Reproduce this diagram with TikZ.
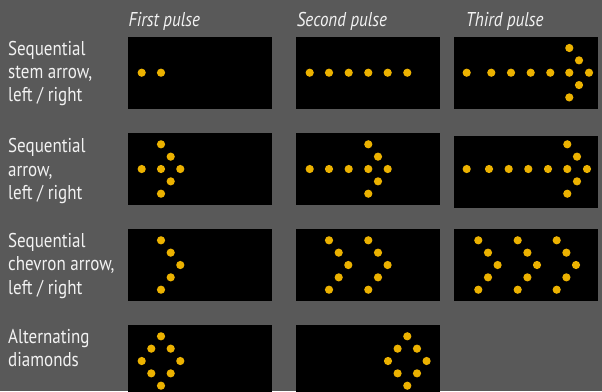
\documentclass[tikz,border=0pt]{standalone}
\usepackage{fontspec}
\setmainfont{PT Sans}[FakeStretch=0.85]
\usepackage{xcolor}
\usepackage{tikz}
\usetikzlibrary{positioning}
\definecolor{bggray}{RGB}{89,89,89}
\definecolor{ledamber}{RGB}{236,178,0}
\definecolor{labelgray}{RGB}{242,242,242}
% one LED, and the groups of LEDs that repeat
\newcommand{\led}[2]{\fill[led] (#1,#2) circle (4.1);}
\newcommand{\ledhead}[2]{% column x, middle y
  \foreach \dy in {-24.7,0,24.7} {\led{#1}{#2+\dy}}
  \foreach \dy in {-12.35,12.35} {\led{#1+9.7}{#2+\dy}}}
\newcommand{\ledchev}[2]{% left x, middle y
  \foreach \dy in {-24.7,24.7} {\led{#1}{#2+\dy}}
  \foreach \dy in {-12.35,12.35} {\led{#1+9.7}{#2+\dy}}
  \led{#1+19.3}{#2}}
\newcommand{\leddiamond}[2]{% centre x, centre y
  \foreach \dy in {-24.7,24.7} {\led{#1}{#2+\dy}}
  \foreach \dx in {-9.7,9.7} {\foreach \dy in {-12.35,12.35} {\led{#1+\dx}{#2+\dy}}}
  \foreach \dx in {-19.3,19.3} {\led{#1+\dx}{#2}}}

\begin{document}
\begin{tikzpicture}[x=1pt, y=-1pt,
  panel/.style={fill=black, inner sep=0pt, minimum width=144pt, minimum height=72pt, anchor=north west},
  led/.style={fill=ledamber},
  rowlabel/.style={anchor=base west, inner sep=0pt, align=left, text=labelgray, font=\fontsize{20}{23.3}\selectfont},
  pulse/.style={anchor=base west, inner sep=0pt, text=labelgray, font=\fontsize{20}{22}\selectfont\itshape}]
  \useasboundingbox (0,0) rectangle (602,391);
  \clip (0,0) rectangle (602,391);
  \fill[bggray] (0,0) rectangle (602,391);

  \node[pulse] (first) at (128.3,26.7) {First pulse};
  \node[pulse] (second) at (296.7,26.7) {Second pulse};
  \node[pulse] (third) at (465.7,26.7) {Third pulse};

  % labels sit on the baseline of their last line
  \node[rowlabel] (stem) at (8,101.7) {Sequential\\stem arrow,\\left / right};
  \node[rowlabel] (arrow) at (8,199.3) {Sequential\\arrow,\\left / right};
  \node[rowlabel] (chevron) at (8,294) {Sequential\\chevron arrow,\\left / right};
  \node[rowlabel] (diamonds) at (8,366.7) {Alternating\\diamonds};

  \node[panel] (stem1) at (128,37) {};
  \node[panel] (stem2) at (296,37) {};
  \node[panel] (stem3) at (454,37) {};
  \node[panel] (arrow1) at (128,133) {};
  \node[panel] (arrow2) at (296,133) {};
  \node[panel] (arrow3) at (454,136) {};
  \node[panel] (chevron1) at (128,229) {};
  \node[panel] (chevron2) at (296,229) {};
  \node[panel] (chevron3) at (454,229) {};
  \node[panel] (diamonds1) at (128,325) {};
  \node[panel] (diamonds2) at (296,325) {};

  % stem arrow
  \foreach \x in {141.7,161} {\led{\x}{72.7}}
  \foreach \x in {309.7,329,348.7,368.3,387.7,407.3} {\led{\x}{72.7}}
  \foreach \x in {466.7,491.3,511,530.7,550.3} {\led{\x}{72.7}}
  \ledhead{569.3}{72.7}
  \led{589}{72.7}

  % arrow
  \led{141.7}{169}
  \ledhead{161}{169}
  \led{180.3}{169}
  \foreach \x in {309.7,329,348.7} {\led{\x}{169}}
  \ledhead{368.3}{169}
  \led{387.7}{169}
  \foreach \x in {466.7,489,508.7,528.3,548} {\led{\x}{169}}
  \ledhead{567.3}{169}
  \led{587}{169}

  % chevrons
  \ledchev{161}{265}
  \foreach \x in {329,368.3} {\ledchev{\x}{265}}
  \foreach \x in {478.3,517.7,556.7} {\ledchev{\x}{265}}

  % diamonds
  \leddiamond{161}{361}
  \leddiamond{407.3}{361}
\end{tikzpicture}
\end{document}
